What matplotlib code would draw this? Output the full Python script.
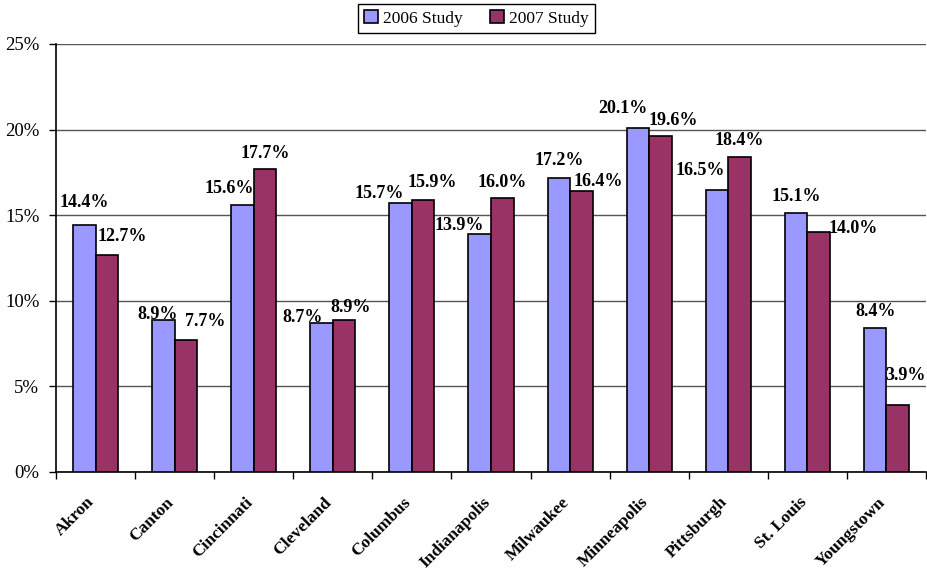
import numpy as np
import matplotlib
matplotlib.use("Agg")
import matplotlib.pyplot as plt
import matplotlib.transforms as mtransforms
from matplotlib.ticker import FuncFormatter, FixedLocator

plt.rcParams['font.family'] = ['Liberation Serif', 'DejaVu Serif']

# Data (percent)
cities = ['Akron', 'Canton', 'Cincinnati', 'Cleveland', 'Columbus', 'Indianapolis',
          'Milwaukee', 'Minneapolis', 'Pittsburgh', 'St. Louis', 'Youngstown']
study_2006 = [14.4, 8.9, 15.6, 8.7, 15.7, 13.9, 17.2, 20.1, 16.5, 15.1, 8.4]
study_2007 = [12.7, 7.7, 17.7, 8.9, 15.9, 16.0, 16.4, 19.6, 18.4, 14.0, 3.9]

# label nudges (pixels) to mimic the hand-placed labels of the original
dx_06 = [0, -5.5, -13.5, -19, -21, -20, 0, -15, -17, 0, 0]
dy_06 = [18, 1, 12, 1, 5, 4, 12.5, 14.5, 14.5, 12, 12]
dx_07 = [15.5, 19, 0, 6.5, 9.5, 0, 17, 13, 0, 35, 8]
dy_07 = [14, 14, 11, 8, 13, 11, 5, 11.5, 12, -1, 25]

c06 = '#9999FF'
c07 = '#993366'
px = 72 / 100  # pixel -> points at dpi 100

fig = plt.figure(figsize=(9.27, 5.71), dpi=100)
ax = fig.add_axes([56 / 927, 1 - 472 / 571, 870 / 927, 428 / 571])

x = np.arange(len(cities))
w = 0.285
b1 = ax.bar(x - w / 2, study_2006, w, color=c06, edgecolor='black', linewidth=1.2,
            label='2006 Study', zorder=3)
b2 = ax.bar(x + w / 2, study_2007, w, color=c07, edgecolor='black', linewidth=1.2,
            label='2007 Study', zorder=3)

for xs, vals, dxs, dys in [(x - w / 2, study_2006, dx_06, dy_06),
                           (x + w / 2, study_2007, dx_07, dy_07)]:
    for xi, v, ddx, ddy in zip(xs, vals, dxs, dys):
        ax.annotate(f'{v:.1f}%', (xi, v), xytext=(ddx * px, ddy * px),
                    textcoords='offset points', ha='center', va='baseline',
                    fontsize=13, fontweight='bold', zorder=4, annotation_clip=False)

ax.set_xlim(-0.5, len(cities) - 0.5)
ax.set_ylim(0, 25)
ax.set_yticks(np.arange(0, 26, 5))
ax.yaxis.set_major_formatter(FuncFormatter(lambda v, p: f'{v:.0f}%'))
ax.grid(axis='y', color='#555555', linewidth=1.0, zorder=0)
ax.tick_params(axis='y', direction='out', length=5, width=1, pad=7, labelsize=13.5)

ax.set_xticks(x)
ax.set_xticklabels(cities, rotation=45, ha='right', va='top', rotation_mode='anchor',
                   fontsize=12.5, fontweight='bold')
ax.tick_params(axis='x', which='major', length=0, pad=16)
shift = mtransforms.ScaledTranslation(-9 / 100, 0, fig.dpi_scale_trans)
for lbl in ax.get_xticklabels():
    lbl.set_transform(lbl.get_transform() + shift)
ax.xaxis.set_minor_locator(FixedLocator(np.arange(-0.5, len(cities), 1)))
ax.tick_params(axis='x', which='minor', direction='out', length=5, width=1)

for s in ['top', 'right']:
    ax.spines[s].set_visible(False)
ax.spines['left'].set_linewidth(1.2)
ax.spines['bottom'].set_linewidth(1.2)

leg = fig.legend(handles=[b1, b2], loc='upper center', bbox_to_anchor=(476.5 / 927, 1 - 4 / 571),
                 ncol=2, fontsize=12.5, frameon=True, fancybox=False, framealpha=1,
                 edgecolor='black', handlelength=0.8, handleheight=0.8, handletextpad=0.3,
                 columnspacing=1.6, borderpad=0.35, borderaxespad=0)
leg.get_frame().set_linewidth(1.0)

fig.savefig('out.png', dpi=100)
